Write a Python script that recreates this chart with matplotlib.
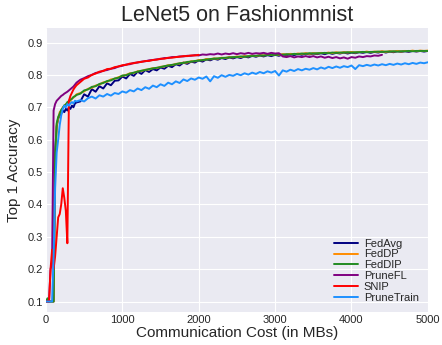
import matplotlib
matplotlib.use("Agg")
import matplotlib.pyplot as plt

plt.style.use("seaborn-v0_8-darkgrid")
plt.rcParams['font.family'] = ['Liberation Sans', 'DejaVu Sans']

cost_early = [0, 20, 40, 60, 80, 100, 120, 140, 160, 180, 200, 220, 240, 260, 280, 300, 320, 340, 360, 380, 400]
cost_late = list(range(450, 5001, 50))
cost = cost_early + cost_late

fedavg = [0.1, 0.1, 0.1, 0.1, 0.1, 0.1, 0.56, 0.64, 0.665, 0.675, 0.68, 0.69, 0.685, 0.695, 0.69, 0.70, 0.695, 0.705, 0.70, 0.712, 0.715,
          0.718, 0.740, 0.733, 0.756, 0.748, 0.765, 0.758, 0.774, 0.768, 0.782,
          0.783, 0.795, 0.789, 0.803, 0.797, 0.810, 0.803, 0.815, 0.809, 0.818,
          0.814, 0.823, 0.819, 0.828, 0.824, 0.833, 0.829, 0.838, 0.834, 0.841,
          0.838, 0.845, 0.841, 0.848, 0.845, 0.850, 0.847, 0.852, 0.849, 0.854,
          0.851, 0.855, 0.852, 0.857, 0.854, 0.859, 0.856, 0.860, 0.857, 0.861,
          0.858, 0.862, 0.859, 0.863, 0.861, 0.864, 0.861, 0.865, 0.862, 0.866,
          0.863, 0.866, 0.864, 0.867, 0.864, 0.868, 0.865, 0.868, 0.866, 0.869,
          0.866, 0.869, 0.867, 0.870, 0.868, 0.871, 0.868, 0.871, 0.869, 0.872,
          0.869, 0.872, 0.870, 0.873, 0.871, 0.873, 0.871, 0.874, 0.872, 0.874,
          0.872, 0.874]

feddp = [0.1, 0.1, 0.1, 0.1, 0.1, 0.1, 0.52, 0.645, 0.665, 0.685, 0.69, 0.70, 0.703, 0.71, 0.712, 0.72, 0.72, 0.727, 0.73, 0.735, 0.74,
         0.744, 0.749, 0.757, 0.760, 0.767, 0.770, 0.777, 0.779, 0.786, 0.788,
         0.793, 0.797, 0.800, 0.805, 0.806, 0.811, 0.812, 0.816, 0.817, 0.821,
         0.821, 0.825, 0.826, 0.830, 0.830, 0.834, 0.835, 0.838, 0.838, 0.842,
         0.842, 0.846, 0.845, 0.849, 0.848, 0.851, 0.850, 0.853, 0.852, 0.855,
         0.854, 0.857, 0.855, 0.858, 0.857, 0.860, 0.858, 0.861, 0.860, 0.862,
         0.861, 0.863, 0.862, 0.864, 0.863, 0.865, 0.864, 0.866, 0.865, 0.867,
         0.865, 0.867, 0.866, 0.868, 0.867, 0.869, 0.867, 0.870, 0.868, 0.870,
         0.869, 0.871, 0.869, 0.871, 0.870, 0.872, 0.870, 0.872, 0.871, 0.873,
         0.871, 0.873, 0.872, 0.874, 0.872, 0.874, 0.873, 0.875, 0.873, 0.875,
         0.874, 0.875]

feddip = [0.1, 0.11, 0.1, 0.1, 0.1, 0.1, 0.55, 0.65, 0.67, 0.68, 0.692, 0.698, 0.706, 0.708, 0.716, 0.718, 0.724, 0.726, 0.732, 0.734, 0.738,
          0.742, 0.752, 0.755, 0.763, 0.765, 0.772, 0.775, 0.781, 0.783, 0.789,
          0.791, 0.798, 0.799, 0.804, 0.807, 0.810, 0.813, 0.815, 0.818, 0.820,
          0.822, 0.824, 0.827, 0.829, 0.831, 0.833, 0.836, 0.837, 0.840, 0.841,
          0.843, 0.844, 0.846, 0.847, 0.849, 0.850, 0.851, 0.852, 0.853, 0.854,
          0.855, 0.855, 0.857, 0.856, 0.858, 0.858, 0.859, 0.860, 0.860, 0.861,
          0.862, 0.861, 0.863, 0.862, 0.864, 0.863, 0.865, 0.864, 0.866, 0.865,
          0.867, 0.866, 0.867, 0.867, 0.868, 0.867, 0.869, 0.868, 0.869, 0.869,
          0.870, 0.869, 0.870, 0.870, 0.871, 0.870, 0.871, 0.871, 0.872, 0.871,
          0.872, 0.872, 0.873, 0.872, 0.873, 0.873, 0.874, 0.873, 0.874, 0.874,
          0.874, 0.874]

prunefl = [0.1, 0.1, 0.1, 0.2, 0.22, 0.69, 0.71, 0.72, 0.725, 0.73, 0.735, 0.738, 0.742, 0.745, 0.748, 0.752, 0.756, 0.76, 0.764, 0.77, 0.776,
           0.785, 0.790, 0.796, 0.800, 0.806, 0.808, 0.813, 0.815, 0.819, 0.821,
           0.826, 0.828, 0.832, 0.833, 0.837, 0.838, 0.841, 0.842, 0.845, 0.846,
           0.848, 0.849, 0.852, 0.852, 0.855, 0.855, 0.857, 0.857, 0.859, 0.859,
           0.861, 0.860, 0.863, 0.862, 0.864, 0.863, 0.866, 0.863, 0.866, 0.864,
           0.867, 0.864, 0.867, 0.865, 0.868, 0.865, 0.867, 0.866, 0.868, 0.865,
           0.868, 0.866, 0.867, 0.857, 0.855, 0.858, 0.854, 0.857, 0.855, 0.858,
           0.855, 0.858, 0.854, 0.857, 0.853, 0.856, 0.852, 0.855, 0.851, 0.854,
           0.850, 0.855, 0.853, 0.857, 0.855, 0.858, 0.857, 0.860, 0.859, 0.862]

snip = [0.1, 0.1, 0.1, 0.2, 0.26, 0.2, 0.24, 0.3, 0.36, 0.37, 0.40, 0.45, 0.42, 0.38, 0.28, 0.72, 0.735, 0.745, 0.755, 0.762, 0.768,
        0.778, 0.788, 0.792, 0.800, 0.804, 0.810, 0.812, 0.818, 0.819, 0.824,
        0.826, 0.830, 0.831, 0.835, 0.836, 0.839, 0.840, 0.843, 0.843, 0.846,
        0.847, 0.850, 0.850, 0.853, 0.853, 0.855, 0.856, 0.858, 0.858, 0.860,
        0.860, 0.862]

prunetrain = [0.1, 0.1, 0.1, 0.1, 0.1, 0.24, 0.45, 0.56, 0.60, 0.645, 0.675, 0.695, 0.705, 0.70, 0.71, 0.705, 0.712, 0.716, 0.712, 0.72, 0.718,
              0.722, 0.718, 0.728, 0.733, 0.727, 0.737, 0.733, 0.741, 0.736, 0.744,
              0.741, 0.749, 0.745, 0.753, 0.749, 0.758, 0.753, 0.762, 0.757, 0.767,
              0.762, 0.771, 0.766, 0.776, 0.771, 0.780, 0.775, 0.786, 0.781, 0.789,
              0.785, 0.792, 0.788, 0.795, 0.780, 0.796, 0.791, 0.799, 0.794, 0.800,
              0.797, 0.803, 0.799, 0.805, 0.801, 0.807, 0.803, 0.809, 0.805, 0.811,
              0.807, 0.812, 0.798, 0.814, 0.810, 0.816, 0.812, 0.818, 0.814, 0.819,
              0.816, 0.821, 0.817, 0.823, 0.819, 0.825, 0.821, 0.826, 0.822, 0.827,
              0.824, 0.829, 0.818, 0.830, 0.827, 0.831, 0.828, 0.832, 0.829, 0.833,
              0.830, 0.834, 0.831, 0.835, 0.832, 0.836, 0.833, 0.837, 0.834, 0.838,
              0.836, 0.839]

series = [
    ("FedAvg", fedavg, "navy"),
    ("FedDP", feddp, "darkorange"),
    ("FedDIP", feddip, "forestgreen"),
    ("PruneFL", prunefl, "purple"),
    ("SNIP", snip, "red"),
    ("PruneTrain", prunetrain, "dodgerblue"),
]

fig = plt.figure(figsize=(4.42, 3.45), dpi=100)
ax = fig.add_axes([0.104, 0.096, 0.864, 0.823])
for name, vals, col in series:
    ax.plot(cost[:len(vals)], vals, color=col, lw=1.4, label=name)

ax.set_xlim(0, 5000)
ax.set_ylim(0.068, 0.945)
ax.set_yticks([0.1, 0.2, 0.3, 0.4, 0.5, 0.6, 0.7, 0.8, 0.9])
ax.tick_params(labelsize=8, pad=2)
ax.set_title("LeNet5 on Fashionmnist", fontsize=15.5, pad=5)
ax.set_xlabel("Communication Cost (in MBs)", fontsize=11, labelpad=1)
ax.set_ylabel("Top 1 Accuracy", fontsize=11, labelpad=5)
ax.legend(loc="lower right", fontsize=8, frameon=False, labelspacing=0.08,
          handlelength=2.2, handletextpad=0.5, borderaxespad=0.4)
fig.savefig("out.png", dpi=100)
